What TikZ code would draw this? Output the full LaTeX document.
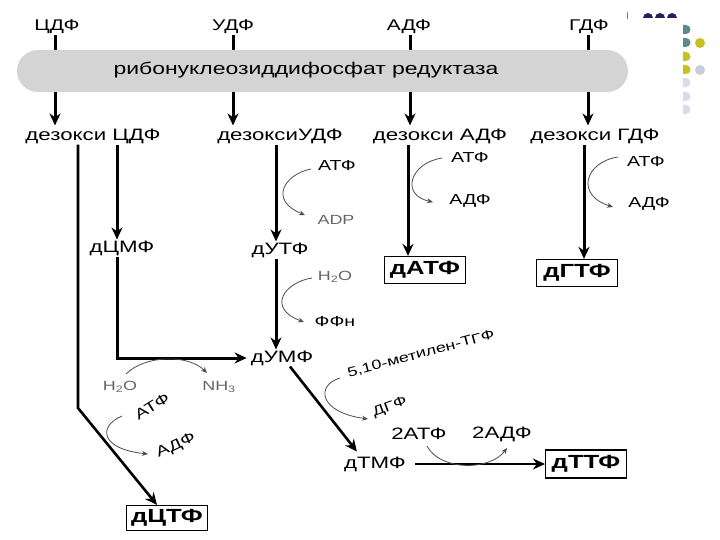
\documentclass[tikz,border=0pt]{standalone}
\usepackage{fontspec}
\usepackage{graphicx}
\setmainfont{Liberation Sans}
\newfontfamily\wf{Liberation Sans}[FakeStretch=1.35]
\usetikzlibrary{arrows.meta}
\definecolor{barg}{RGB}{212,212,212}
\definecolor{dpurple}{RGB}{46,26,92}
\definecolor{dteal}{RGB}{91,138,143}
\definecolor{dyel}{RGB}{200,192,32}
\definecolor{dlav}{RGB}{218,218,234}
\definecolor{dgb}{RGB}{200,204,216}
\begin{document}
\begin{tikzpicture}[x=1pt,y=-1pt,
 lbl/.style={font=\wf\fontsize{15.5}{17}\selectfont, inner sep=1pt},
 row/.style={font=\wf\fontsize{16.5}{18}\selectfont, inner sep=1pt},
 sm/.style={font=\wf\fontsize{14.5}{16}\selectfont, inner sep=1pt},
 tiny/.style={font=\wf\fontsize{13.3}{15}\selectfont, inner sep=1pt},
 gr/.style={font=\wf\fontsize{13.3}{15}\selectfont, text=black!60, inner sep=1pt},
 bx/.style={draw, line width=1.2pt, font=\wf\bfseries\fontsize{19}{21}\selectfont, minimum width=81pt, minimum height=27pt, inner sep=1pt},
 big/.style={line width=3pt, -{Stealth[length=12pt,width=11pt]}},
 thinarr/.style={line width=0.8pt, draw=black!70, -{Stealth[length=6pt,width=5pt]}},
]
\useasboundingbox (0,0) rectangle (720,540);

% top labels
\node[lbl] (t1) at (57,27) {ЦДФ};
\node[lbl] (t2) at (233,27) {УДФ};
\node[lbl] (t3) at (409,27) {АДФ};
\node[lbl] (t4) at (589,27) {ГДФ};

% deoxy labels
\node[row] (d1) at (93,136) {дезокси ЦДФ};
\node[row] (d2) at (280,136) {дезоксиУДФ};
\node[row] (d3) at (440,136) {дезокси АДФ};
\node[row] (d4) at (595,136) {дезокси ГДФ};

\coordinate (xa) at (55,0);
\coordinate (xu) at (233,0);
\coordinate (xad) at (410,0);
\coordinate (xg) at (588,0);
\draw[big, shorten >=2pt] (t1.south -| xa) -- (d1.north -| xa);
\draw[big, shorten >=2pt] (t2.south -| xu) -- (d2.north -| xu);
\draw[big, shorten >=2pt] (t3.south -| xad) -- (d3.north -| xad);
\draw[big, shorten >=2pt] (t4.south -| xg) -- (d4.north -| xg);

% enzyme bar
\node[fill=barg, rounded corners=21pt, minimum width=611pt, minimum height=42pt, inner sep=0pt] (bar) at (322.5,71) {};
\node[font=\wf\fontsize{17}{19}\selectfont, inner sep=1pt] (bt) at (306,70) {рибонуклеозиддифосфат редуктаза};

% dCDP branch
\coordinate (xb) at (117,0);
\coordinate (xc) at (78,0);
\coordinate (bend1) at (78,408);
\node[row] (dcmp) at (122,248) {дЦМФ};
\node[row] (dump) at (282,358) {дУМФ};
\node[bx, minimum height=25pt] (dctp) at (167,518) {дЦТФ};
\draw[big] (d1.south -| xb) -- (dcmp.north -| xb);
\draw[big, shorten >=3pt] (dcmp.south -| xb) |- (dump.west);
\draw[big, line width=2.6pt] (d1.south -| xc) -- (bend1) -- ([xshift=-10pt]dctp.north);

\node[gr] (h2o1) at (120,387) {H\textsubscript{2}O};
\node[gr] (nh3) at (219,387) {NH\textsubscript{3}};
\draw[thinarr] (126,374) .. controls (145,355) and (188,354) .. (207,373);
\node[sm, rotate=32] (atp1) at (152,406) {АТФ};
\node[sm, rotate=25] (adp1) at (176,446) {АДФ};
\draw[thinarr] (122,416) .. controls (98,426) and (100,449) .. (148,454);

% dUDP branch
\coordinate (xd) at (276,0);
\node[row] (dutp) at (280,250) {дУТФ};
\draw[big] (d2.south -| xd) -- (dutp.north -| xd);
\draw[big] (dutp.south -| xd) -- (dump.north -| xd);
\node[sm] (atp2) at (337,166) {АТФ};
\node[gr] (adp2) at (336,220) {ADP};
\draw[thinarr] (311,169) .. controls (285,174) and (268,200) .. (305,215);
\node[gr] (h2o2) at (335,277) {H\textsubscript{2}O};
\node[sm] (ffn) at (335,322) {ФФн};
\draw[thinarr] (312,278) .. controls (285,282) and (266,308) .. (304,322);

% dUMP -> dTMP -> dTTP
\node[row] (dtmp) at (375,464) {дТМФ};
\node[bx, minimum height=28pt] (dttp) at (586,464) {дТТФ};
\draw[big, line width=2.6pt, shorten >=5pt] ([xshift=8pt]dump.south) -- ([xshift=-15pt]dtmp.north);
\node[tiny, rotate=15] (mthf) at (421,354) {5,10-метилен-ТГФ};
\node[tiny, rotate=20] (dhf) at (390,407) {ДГФ};
\draw[thinarr] (340,378) .. controls (316,385) and (318,412) .. (368,419);
\node[row] (atp5) at (419,434) {2АТФ};
\node[row] (adp5) at (502,434) {2АДФ};
\draw[big, line width=2.6pt, shorten <=8pt] (dtmp.east) -- (dttp.west);
\draw[thinarr] (427,446) .. controls (440,471) and (490,471) .. (507,448);

% dADP branch
\coordinate (xe) at (408,0);
\node[bx] (datp) at (425,270) {дАТФ};
\draw[big] (d3.south -| xe) -- (datp.north -| xe);
\node[sm] (atp3) at (470,158) {АТФ};
\node[sm] (adp3) at (470,201) {АДФ};
\draw[thinarr] (442,158) .. controls (410,163) and (400,195) .. (433,202);

% dGDP branch
\coordinate (xf) at (584,0);
\node[bx] (dgtp) at (577,273) {дГТФ};
\draw[big] (d4.south -| xf) -- (dgtp.north -| xf);
\node[sm] (atp4) at (646,162) {АТФ};
\node[sm] (adp4) at (649,204) {АДФ};
\draw[thinarr] (618,157) .. controls (585,162) and (575,195) .. (613,207);

% decoration, top right
\draw[black!50, line width=0.8pt] (627,12) -- (627,19);
\foreach \cx in {648,660,672}
  \fill[dpurple] (\cx-5,18) arc[start angle=180, end angle=360, radius=5] -- cycle;
\foreach \cy/\col in {25/dteal,38/dteal,52/dyel,65/dyel,78/dlav,92/dlav,105/dlav}
  \fill[\col] (683,\cy) -- (686,\cy) arc[start angle=-90, end angle=90, radius=4.5] -- (683,\cy+9) -- cycle;
\fill[dyel] (700,43) circle[radius=5];
\fill[dgb] (700,70) circle[radius=5];
\end{tikzpicture}
\end{document}
